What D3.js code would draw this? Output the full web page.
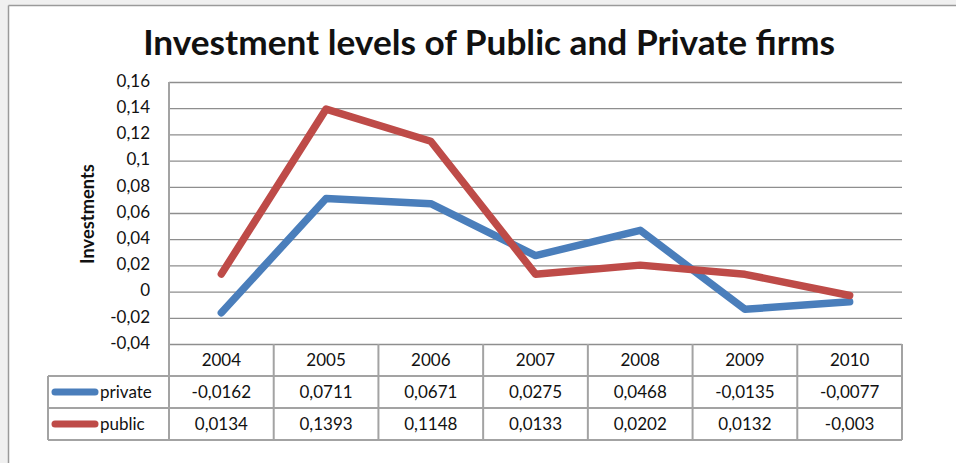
<!DOCTYPE html>
<html>
<head>
<meta charset="utf-8">
<script src="https://cdn.jsdelivr.net/npm/d3@7"></script>
<style>
  html, body { margin: 0; padding: 0; background: #fff; }
  svg { display: block; }
  text { font-family: Lato, "Open Sans", "DejaVu Sans", sans-serif; fill: #111; }
</style>
</head>
<body>
<svg id="chart" width="956" height="463"></svg>
<script>
// Investment levels, one value per year for each type of firm
const years = ["2004", "2005", "2006", "2007", "2008", "2009", "2010"];
const privateValues = [-0.0162, 0.0711, 0.0671, 0.0275, 0.0468, -0.0135, -0.0077];
const publicValues = [0.0134, 0.1393, 0.1148, 0.0133, 0.0202, 0.0132, -0.003];
const seriesNames = ["private", "public"];
const yTicks = [-0.04, -0.02, 0, 0.02, 0.04, 0.06, 0.08, 0.1, 0.12, 0.14, 0.16];
const titleText = "Investment levels of Public and Private firms";
const yAxisTitle = "Investments";

const series = [
  { name: seriesNames[0], values: privateValues, color: "#4A7EBB" },
  { name: seriesNames[1], values: publicValues, color: "#BE4B48" }
];

const svg = d3.select("#chart");
const W = 956, H = 463;

// Frame of the chart object
svg.append("rect").attr("x", 0).attr("y", 0).attr("width", W).attr("height", H).attr("fill", "#f0f0f0");
svg.append("rect").attr("x", 9).attr("y", 6).attr("width", W - 9).attr("height", H - 6).attr("fill", "#fff");
svg.append("line").attr("x1", 8.5).attr("x2", W).attr("y1", 5.5).attr("y2", 5.5).attr("stroke", "#9a9a9a").attr("stroke-width", 1.5);
svg.append("line").attr("x1", 8.5).attr("x2", 8.5).attr("y1", 5.5).attr("y2", H).attr("stroke", "#9a9a9a").attr("stroke-width", 1.5);

const plot = { left: 169, right: 902, top: 82, bottom: 344 };
const rowH = 32;
const tableBottom = plot.bottom + 3 * rowH;
const legendLeft = 48;

const x = d3.scaleBand().domain(years).range([plot.left, plot.right]);
const y = d3.scaleLinear().domain([-0.04, 0.16]).range([plot.bottom, plot.top]);
const fmt = v => String(+v.toFixed(4)).replace(".", ",");

// Title, sized to its width
const title = svg.append("text")
  .attr("x", 489).attr("y", 55)
  .attr("text-anchor", "middle")
  .style("font-weight", "bold")
  .style("font-size", "30px")
  .text(titleText);
const tw = title.node().getComputedTextLength();
title.style("font-size", (30 * 692 / tw).toFixed(2) + "px");

// Y axis with gridlines
const yAxis = svg.append("g")
  .attr("transform", `translate(${plot.left},0)`)
  .call(d3.axisLeft(y).tickValues(yTicks).tickSize(-(plot.right - plot.left)).tickPadding(19).tickFormat(fmt));
yAxis.select(".domain").remove();
yAxis.selectAll(".tick line").attr("stroke", "#8e8e8e").attr("stroke-width", 1.3);
yAxis.selectAll(".tick text")
  .attr("dy", "0.25em")
  .style("font-family", "Lato, 'Open Sans', sans-serif")
  .style("font-size", "17px")
  .attr("fill", "#111");

// Y axis title
const yt = svg.append("text")
  .attr("transform", "translate(94,214) rotate(-90)")
  .attr("text-anchor", "middle")
  .style("font-weight", "bold")
  .style("font-size", "14px")
  .text(yAxisTitle);
const yw = yt.node().getComputedTextLength();
yt.style("font-size", (14 * 100 / yw).toFixed(2) + "px");

// Data table beneath the plot
const grid = "#a3a3a3";
const tbl = svg.append("g").attr("stroke", grid).attr("stroke-width", 2).attr("fill", "none");
// horizontal rules
[plot.bottom + rowH, plot.bottom + 2 * rowH, tableBottom].forEach(yy => {
  tbl.append("line").attr("x1", legendLeft).attr("x2", plot.right).attr("y1", yy).attr("y2", yy);
});
// column rules
const colEdges = years.map(yr => x(yr)).concat([plot.right]);
colEdges.forEach((xx, i) => {
  tbl.append("line").attr("x1", xx).attr("x2", xx)
    .attr("y1", i === 0 ? plot.top : plot.bottom)
    .attr("y2", tableBottom);
});
tbl.append("line").attr("x1", legendLeft).attr("x2", legendLeft)
  .attr("y1", plot.bottom + rowH).attr("y2", tableBottom);

// header row of years
svg.append("g").selectAll("text").data(years).join("text")
  .attr("x", d => x(d) + x.bandwidth() / 2)
  .attr("y", plot.bottom + rowH / 2)
  .attr("dy", "0.36em")
  .attr("text-anchor", "middle")
  .style("font-size", "17px")
  .text(d => d);

// value rows with legend keys
series.forEach((s, si) => {
  const rowMid = plot.bottom + rowH * (si + 1) + rowH / 2;
  const g = svg.append("g");
  g.selectAll("text.val").data(s.values).join("text")
    .attr("class", "val")
    .attr("x", (d, i) => x(years[i]) + x.bandwidth() / 2)
    .attr("y", rowMid)
    .attr("dy", "0.36em")
    .attr("text-anchor", "middle")
    .style("font-size", "17px")
    .text(d => fmt(d));
  g.append("line")
    .attr("x1", 55).attr("x2", 95)
    .attr("y1", rowMid).attr("y2", rowMid)
    .attr("stroke", s.color).attr("stroke-width", 7).attr("stroke-linecap", "round");
  g.append("text")
    .attr("x", 100).attr("y", rowMid)
    .attr("dy", "0.36em")
    .style("font-size", "17px")
    .text(s.name);
});

// Series lines
const line = d3.line()
  .x((d, i) => x(years[i]) + x.bandwidth() / 2)
  .y(d => y(d));
svg.append("g").selectAll("path").data(series).join("path")
  .attr("d", d => line(d.values))
  .attr("fill", "none")
  .attr("stroke", d => d.color)
  .attr("stroke-width", 7.5)
  .attr("stroke-linecap", "round")
  .attr("stroke-linejoin", "round");
</script>
</body>
</html>
